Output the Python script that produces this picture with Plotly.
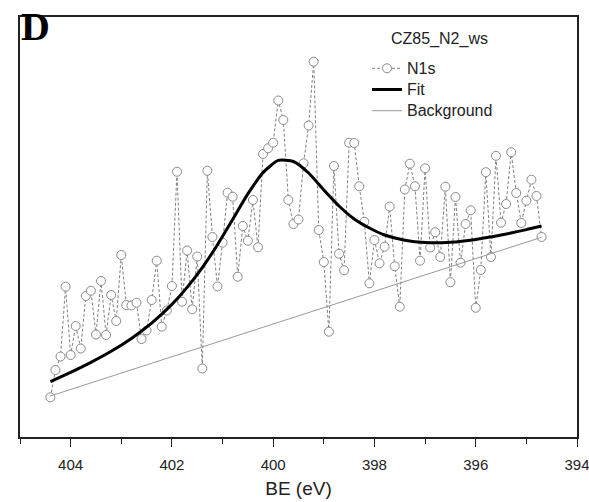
import plotly.graph_objects as go

# Binding energy grid of the measured N1s spectrum (eV)
be = [404.4, 404.3, 404.2, 404.1, 404.0, 403.9, 403.8, 403.7, 403.6, 403.5,
      403.4, 403.3, 403.2, 403.1, 403.0, 402.9, 402.8, 402.7, 402.6, 402.5,
      402.4, 402.3, 402.2, 402.1, 402.0, 401.9, 401.8, 401.7, 401.6, 401.5,
      401.4, 401.3, 401.2, 401.1, 401.0, 400.9, 400.8, 400.7, 400.6, 400.5,
      400.4, 400.3, 400.2, 400.1, 400.0, 399.9, 399.8, 399.7, 399.6, 399.5,
      399.4, 399.3, 399.2, 399.1, 399.0, 398.9, 398.8, 398.7, 398.6, 398.5,
      398.4, 398.3, 398.2, 398.1, 398.0, 397.9, 397.8, 397.7, 397.6, 397.5,
      397.4, 397.3, 397.2, 397.1, 397.0, 396.9, 396.8, 396.7, 396.6, 396.5,
      396.4, 396.3, 396.2, 396.1, 396.0, 395.9, 395.8, 395.7, 395.6, 395.5,
      395.4, 395.3, 395.2, 395.1, 395.0, 394.9, 394.8, 394.7]

# Measured intensity (arbitrary units)
n1s = [39.7, 67, 80.5, 150.3, 82, 111, 88.5, 141, 146.3, 102.5,
       156, 102, 142, 116, 182, 132, 131.5, 134.3, 98, 106.5,
       137, 176.3, 110.3, 126.5, 151, 265.3, 135.3, 186.5, 127.7, 180.5,
       68.5, 266.3, 200, 150.5, 194.3, 244.3, 240.3, 160.3, 211, 196.3,
       237, 189.7, 283, 288.7, 294.3, 336.5, 317, 237, 213, 217.5,
       273.7, 311.5, 375.3, 207, 175, 105.3, 271, 183.3, 166.7, 294.3,
       294, 250.7, 215.3, 153.7, 197, 173.7, 190.3, 230.5, 170.7, 130.3,
       247.5, 273.3, 250.7, 176.3, 268.7, 189.5, 204.8, 180, 250.3, 154.8,
       240, 174.3, 213, 226.7, 129.2, 167, 264.8, 180, 281.2, 214.3,
       233, 284.8, 244, 214, 236.3, 257.3, 241, 200]

# Fit envelope
fit_be = [404.4, 404.0, 403.6, 403.2, 402.8, 402.4, 402.0, 401.7, 401.4,
          401.1, 400.8, 400.5, 400.2, 399.9, 399.6, 399.3, 399.0, 398.7,
          398.4, 398.1, 397.8, 397.4, 397.0, 396.5, 396.0, 395.5, 395.0, 394.7]
fit_y = [55.4, 64.6, 74.6, 85.7, 98.6, 113.9, 132.6, 149.6, 169.4,
         192.3, 217.6, 243.1, 264.4, 276.6, 275.5, 264, 247, 231,
         218, 209, 202, 196.8, 194.5, 194.8, 197.6, 202.0, 207.4, 211.0]

# Linear background
bg_be = [404.4, 394.7]
bg_y = [41, 199.7]

LEG = '<span style="font-size:16px">{}</span>'

fig = go.Figure()
fig.add_trace(go.Scatter(
    x=be, y=n1s, mode="lines+markers", name=LEG.format("N1s"),
    line=dict(color="#808080", width=1, dash="3px,2px"),
    marker=dict(symbol="circle", size=9, color="white",
                line=dict(color="#8a8a8a", width=1)),
))
fig.add_trace(go.Scatter(
    x=fit_be, y=fit_y, mode="lines", name=LEG.format("Fit"),
    line=dict(color="black", width=3, shape="spline", smoothing=0.6),
))
fig.add_trace(go.Scatter(
    x=bg_be, y=bg_y, mode="lines", name=LEG.format("Background"),
    line=dict(color="#999999", width=1),
))

PL, PR, PT, PB = 20, 12, 17, 65
W, H = 589, 502

fig.update_layout(
    width=W, height=H,
    margin=dict(l=PL, r=PR, t=PT, b=PB),
    plot_bgcolor="white", paper_bgcolor="white",
    font=dict(family="Liberation Sans, Arial, sans-serif", color="#222222"),
    showlegend=True,
    legend=dict(x=0.623, y=0.915, xanchor="left", yanchor="top",
                font=dict(size=14, color="#222222"),
                bgcolor="rgba(0,0,0,0)", tracegroupgap=0),
    xaxis=dict(
        range=[405, 394], tick0=394, dtick=2, automargin=False,
        ticklabeloverflow="allow",
        ticks="outside", ticklen=8, tickwidth=1.2, tickcolor="#222",
        ticklabelstandoff=5,
        minor=dict(dtick=1, ticks="outside", ticklen=5, tickcolor="#222"),
        showline=True, linecolor="#222", linewidth=1.5, mirror=True,
        showgrid=False, zeroline=False,
        tickfont=dict(size=15, color="#222"),
        title=dict(text="BE (eV)", font=dict(size=19, color="#222"), standoff=10),
    ),
    yaxis=dict(
        range=[0, 420], showticklabels=False, ticks="", automargin=False,
        showline=True, linecolor="#222", linewidth=1.5, mirror=True,
        showgrid=False, zeroline=False,
    ),
    annotations=[
        dict(text="<b>D</b>", xref="paper", yref="paper", x=-0.002, y=1.035,
             xanchor="left", yanchor="top", showarrow=False,
             font=dict(family="Liberation Serif, Times New Roman, serif", size=40, color="black")),
        dict(text="CZ85_N2_ws", xref="paper", yref="paper", x=0.663, y=0.948,
             xanchor="left", yanchor="middle", showarrow=False,
             font=dict(size=16, color="#222")),
    ],
)

fig.write_html("out.html", config={"displayModeBar": False},
               post_script="document.body.style.margin='0';document.body.style.overflow='hidden';")
